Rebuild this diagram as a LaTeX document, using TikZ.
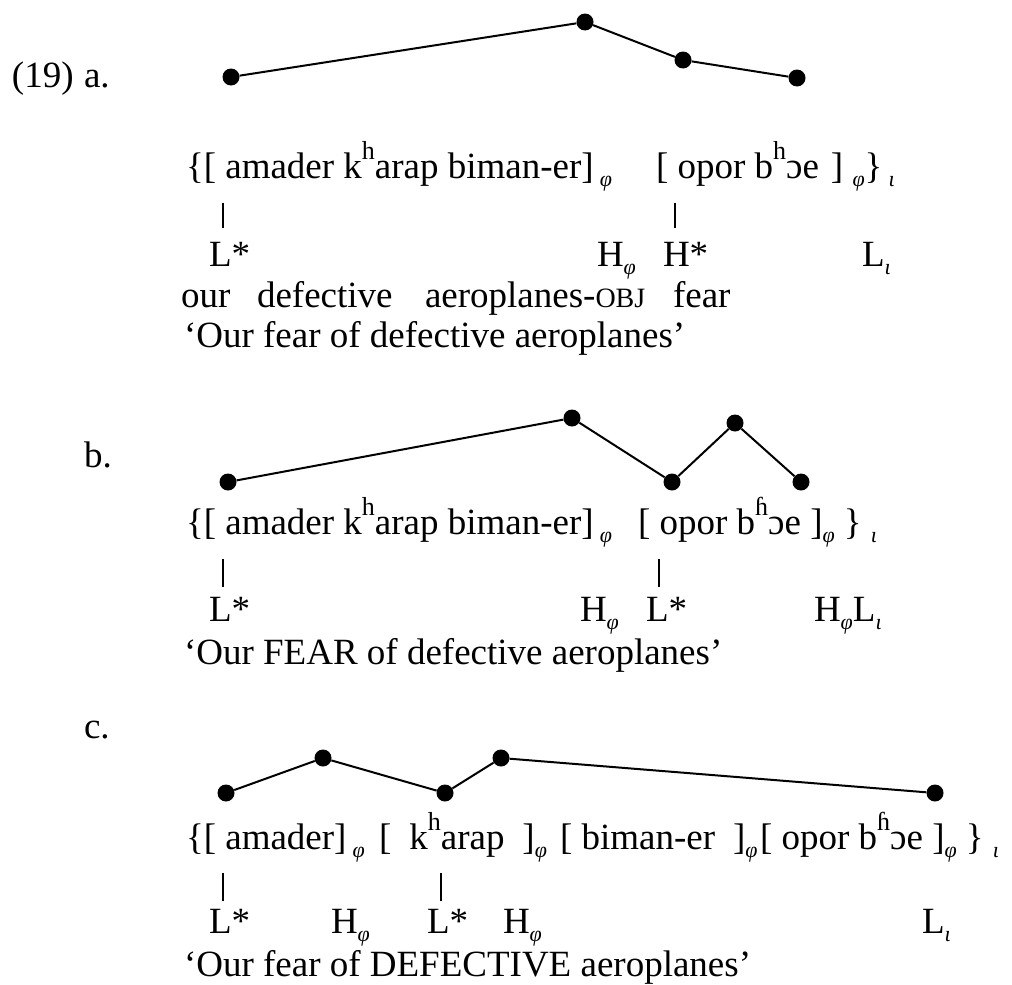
\documentclass[tikz,border=0pt]{standalone}
\usepackage{fontspec}
\setmainfont{Liberation Serif}
\newcommand{\lsub}[1]{\raisebox{-0.22em}{\fontsize{22}{22}\selectfont\itshape #1}}
\newcommand{\hsup}[1]{\raisebox{0.5em}{\fontsize{26}{26}\selectfont #1}}
\newcommand{\smc}[1]{{\fontsize{28}{28}\selectfont #1}}
\begin{document}
\begin{tikzpicture}[x=1pt,y=-1pt,
  txt/.style={anchor=base west, inner sep=0pt, outer sep=0pt, font=\fontsize{37}{43}\selectfont},
  dot/.style={circle, fill=black, minimum size=17pt, inner sep=0pt},
  contour/.style={line width=2pt},
  assoc/.style={line width=1.3pt}]
\useasboundingbox (0,0) rectangle (1012,985);

% ---------- (19) a ----------
\node[txt] (num) at (12,87) {(19)};
\node[txt] (la) at (84,87) {a.};
\node[dot] (a1) at (231,77) {};
\node[dot] (a2) at (585,22) {};
\node[dot] (a3) at (683,60) {};
\node[dot] (a4) at (797,78) {};
\draw[contour] (a1) -- (a2) -- (a3) -- (a4);

\node[txt] (ta1) at (186,178) {\{[ amader k\hsup{h}arap biman-er]\,\lsub{φ}};
\node[txt] (ta2) at (656,178) {[ opor b\hsup{h}ɔe\hspace{12pt}]\ \lsub{φ}\}\,\lsub{ι}};
\coordinate (ba1t) at (223,203); \coordinate (ba1b) at (223,228);
\coordinate (ba2t) at (675,203); \coordinate (ba2b) at (675,228);
\draw[assoc] (ba1t) -- (ba1b);
\draw[assoc] (ba2t) -- (ba2b);
\node[txt] (tna1) at (209,266) {L*};
\node[txt] (tna2) at (597,266) {H\lsub{φ}};
\node[txt] (tna3) at (663,266) {H*};
\node[txt] (tna4) at (862,266) {L\lsub{ι}};
\node[txt] (ga1) at (181,307) {our};
\node[txt] (ga2) at (257,307) {defective};
\node[txt] (ga3) at (425,307) {aeroplanes-\smc{OBJ}};
\node[txt] (ga4) at (673,307) {fear};
\node[txt] (tra) at (184,347) {‘Our fear of defective aeroplanes’};

% ---------- b ----------
\node[txt] (lb) at (84,467) {b.};
\node[dot] (b1) at (228,482) {};
\node[dot] (b2) at (572,418) {};
\node[dot] (b3) at (672,482) {};
\node[dot] (b4) at (735,423) {};
\node[dot] (b5) at (801,482) {};
\draw[contour] (b1) -- (b2) -- (b3) -- (b4) -- (b5);

\node[txt] (tb1) at (186,534) {\{[ amader k\hsup{h}arap biman-er]\,\lsub{φ}};
\node[txt] (tb2) at (638,534) {[ opor b\hsup{ɦ}ɔe ]\lsub{φ}\ \}\ \lsub{ι}};
\coordinate (bb1t) at (223,559); \coordinate (bb1b) at (223,587);
\coordinate (bb2t) at (659,559); \coordinate (bb2b) at (659,587);
\draw[assoc] (bb1t) -- (bb1b);
\draw[assoc] (bb2t) -- (bb2b);
\node[txt] (tnb1) at (209,621) {L*};
\node[txt] (tnb2) at (580,621) {H\lsub{φ}};
\node[txt] (tnb3) at (646,621) {L*};
\node[txt] (tnb4) at (814,621) {H\lsub{φ}L\lsub{ι}};
\node[txt] (trb) at (184,664) {‘Our FEAR of defective aeroplanes’};

% ---------- c ----------
\node[txt] (lc) at (84,738) {c.};
\node[dot] (c1) at (226,793) {};
\node[dot] (c2) at (323,758) {};
\node[dot] (c3) at (445,793) {};
\node[dot] (c4) at (501,758) {};
\node[dot] (c5) at (935,793) {};
\draw[contour] (c1) -- (c2) -- (c3) -- (c4) -- (c5);

\node[txt] (tc1) at (186,849) {\{[ amader]\,\lsub{φ}};
\node[txt] (tc2) at (379,849) {[\hspace{18pt}k\hsup{h}arap\hspace{18pt}]\lsub{φ}};
\node[txt] (tc3) at (560,849) {[ biman-er\hspace{18pt}]\lsub{φ}};
\node[txt] (tc4) at (760,849) {[ opor b\hsup{ɦ}ɔe ]\lsub{φ}\ \}\ \lsub{ι}};
\coordinate (bc1t) at (223,873); \coordinate (bc1b) at (223,901);
\coordinate (bc2t) at (441,873); \coordinate (bc2b) at (441,901);
\draw[assoc] (bc1t) -- (bc1b);
\draw[assoc] (bc2t) -- (bc2b);
\node[txt] (tnc1) at (209,933) {L*};
\node[txt] (tnc2) at (331,933) {H\lsub{φ}};
\node[txt] (tnc3) at (427,933) {L*};
\node[txt] (tnc4) at (503,933) {H\lsub{φ}};
\node[txt] (tnc5) at (922,933) {L\lsub{ι}};
\node[txt] (trc) at (184,976) {‘Our fear of DEFECTIVE aeroplanes’};
\end{tikzpicture}
\end{document}
